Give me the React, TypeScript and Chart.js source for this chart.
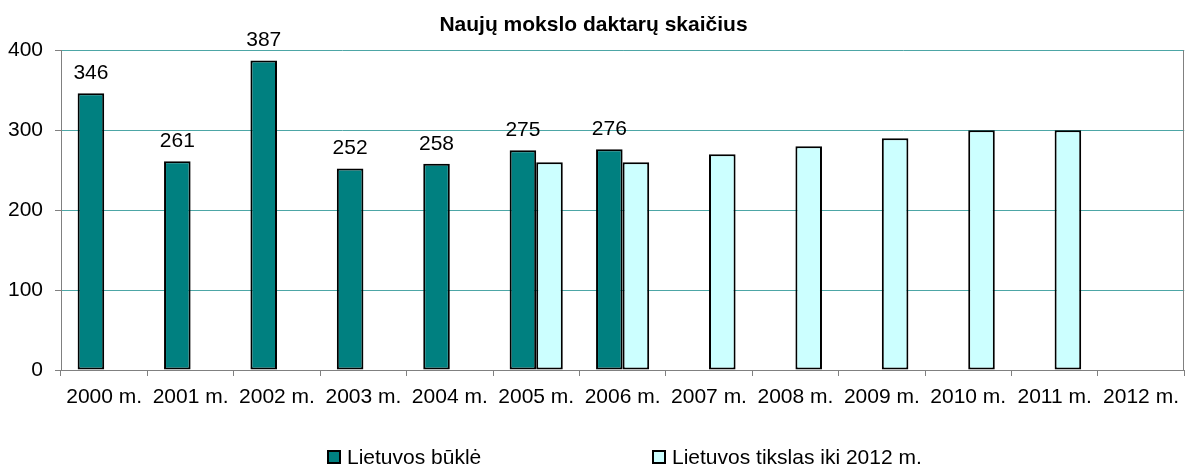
import React, { useEffect, useRef } from "react";
import { Chart, registerables } from "chart.js";

Chart.register(...registerables);

const title = "Naujų mokslo daktarų skaičius";
const categories = [
  "2000 m.", "2001 m.", "2002 m.", "2003 m.", "2004 m.", "2005 m.", "2006 m.",
  "2007 m.", "2008 m.", "2009 m.", "2010 m.", "2011 m.", "2012 m.",
];
const seriesNames = ["Lietuvos būklė", "Lietuvos tikslas iki 2012 m."];
const statusValues = [346, 261, 387, 252, 258, 275, 276, null, null, null, null, null, null];
const targetValues = [null, null, null, null, null, 260, 260, 270, 280, 290, 300, 300, null];
const yTicks = [0, 100, 200, 300, 400];

const FONT = "'Liberation Sans', Arial, sans-serif";
const TEAL = "#008080";
const CYAN = "#CCFFFF";

export default function App() {
  const ref = useRef<HTMLCanvasElement | null>(null);

  useEffect(() => {
    if (!ref.current) return;

    const labelsPlugin = {
      id: "valueLabels",
      afterDatasetsDraw(chart: any) {
        const ctx = chart.ctx;
        const meta = chart.getDatasetMeta(0);
        ctx.save();
        ctx.font = `21px ${FONT}`;
        ctx.fillStyle = "#000";
        ctx.textAlign = "center";
        ctx.textBaseline = "middle";
        meta.data.forEach((el: any, i: number) => {
          const v = statusValues[i];
          if (v == null) return;
          ctx.fillText(String(v), el.x, el.y - 20);
        });
        ctx.restore();
      },
    };

    const framePlugin = {
      id: "frameAndLegend",
      afterDraw(chart: any) {
        const ctx = chart.ctx;
        const a = chart.chartArea;
        ctx.save();
        ctx.strokeStyle = "#808080";
        ctx.lineWidth = 1;
        ctx.beginPath();
        ctx.moveTo(Math.round(a.right) - 0.5, a.top);
        ctx.lineTo(Math.round(a.right) - 0.5, a.bottom);
        ctx.stroke();

        const items = [
          { x: 328, color: TEAL, text: seriesNames[0] },
          { x: 653, color: CYAN, text: seriesNames[1] },
        ];
        const cy = 457;
        ctx.font = `21px ${FONT}`;
        ctx.textBaseline = "middle";
        ctx.textAlign = "left";
        items.forEach((it) => {
          ctx.fillStyle = it.color;
          ctx.fillRect(it.x, cy - 6, 12, 12);
          ctx.strokeStyle = "#000";
          ctx.lineWidth = 2;
          ctx.strokeRect(it.x, cy - 6, 12, 12);
          ctx.fillStyle = "#000";
          ctx.fillText(it.text, it.x + 19, cy + 1);
        });
        ctx.restore();
      },
    };

    const chart = new Chart(ref.current, {
      type: "bar",
      data: {
        labels: categories,
        datasets: [
          {
            label: seriesNames[0],
            data: statusValues,
            backgroundColor: TEAL,
            borderColor: "#000",
            borderWidth: 2,
            borderSkipped: false,
            categoryPercentage: 0.615,
            barPercentage: 1,
          },
          {
            label: seriesNames[1],
            data: targetValues,
            backgroundColor: CYAN,
            borderColor: "#000",
            borderWidth: 2,
            borderSkipped: false,
            categoryPercentage: 0.615,
            barPercentage: 1,
          },
        ],
      },
      options: {
        responsive: false,
        animation: false,
        layout: { padding: { left: 0, right: 1, top: 0, bottom: 59 } },
        plugins: {
          legend: { display: false },
          tooltip: { enabled: false },
          title: {
            display: true,
            text: title,
            color: "#000",
            font: { family: FONT, size: 21, weight: "bold" },
            padding: { top: 13, bottom: 12 },
          },
        },
        scales: {
          x: {
            offset: true,
            grid: {
              offset: true,
              drawOnChartArea: false,
              drawTicks: true,
              tickLength: 6,
              tickColor: "#808080",
            },
            border: { color: "#808080", width: 1 },
            ticks: {
              color: "#000",
              font: { family: FONT, size: 21 },
              padding: 9,
              maxRotation: 0,
              autoSkip: false,
            },
            afterFit: (s: any) => {
              s.height = 40;
            },
          },
          y: {
            min: 0,
            max: 400,
            afterBuildTicks: (s: any) => {
              s.ticks = yTicks.map((v) => ({ value: v }));
            },
            grid: {
              color: "#4da6a6",
              tickColor: "#808080",
              tickLength: 6,
              lineWidth: 1,
            },
            border: { color: "#808080", width: 1 },
            ticks: {
              color: "#000",
              font: { family: FONT, size: 21 },
              padding: 12,
            },
            afterFit: (s: any) => {
              s.width = 61;
            },
          },
        },
      },
      plugins: [labelsPlugin, framePlugin],
    });

    return () => chart.destroy();
  }, []);

  return (
    <div style={{ position: "fixed", left: 0, top: 0, width: 1188, height: 469, background: "#fff" }}>
      <canvas ref={ref} width={1188} height={469} style={{ display: "block" }} />
    </div>
  );
}
